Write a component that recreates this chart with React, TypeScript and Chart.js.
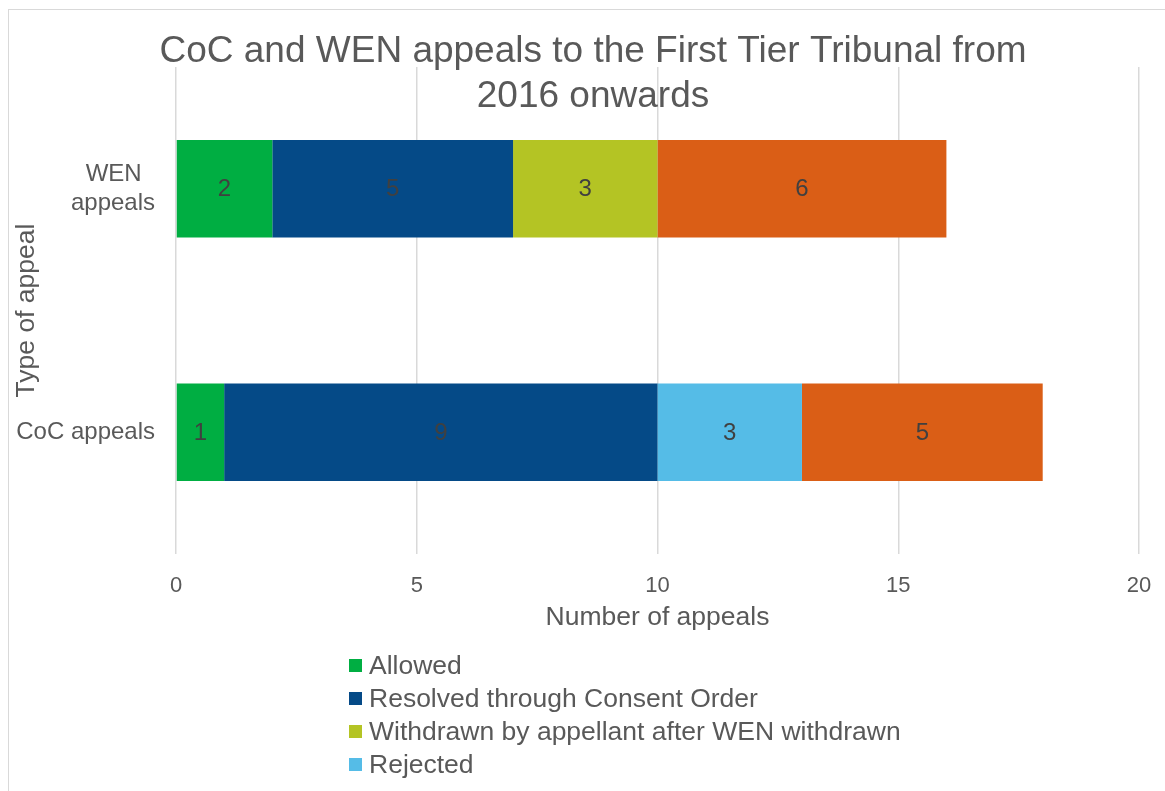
import React, { useEffect, useRef } from "react";
import { Chart, registerables } from "chart.js";

Chart.register(...registerables);

const FONT = "'Liberation Sans', Arial, sans-serif";

const titleLines = ["CoC and WEN appeals to the First Tier Tribunal from", "2016 onwards"];
const categories: (string | string[])[] = [["WEN  ", "appeals"], "CoC appeals"];
const seriesNames = [
  "Allowed",
  "Resolved through Consent Order",
  "Withdrawn by appellant after WEN withdrawn",
  "Rejected",
  "Pending",
];
const allowed = [2, 1];
const consentOrder = [5, 9];
const withdrawnAfterWen = [3, 0];
const rejected = [0, 3];
const pending = [6, 5];
const seriesColors = ["#00AE42", "#054A87", "#B4C424", "#55BCE7", "#DA5E16"];
const xTicks = [0, 5, 10, 15, 20];
const xTitle = "Number of appeals";
const yTitle = "Type of appeal";

const seriesValues = [allowed, consentOrder, withdrawnAfterWen, rejected, pending];

const overlayPlugin = {
  id: "overlay",
  afterDatasetsDraw(chart: any) {
    const ctx = chart.ctx;
    ctx.save();
    ctx.font = `24px ${FONT}`;
    ctx.fillStyle = "#404040";
    ctx.textAlign = "center";
    ctx.textBaseline = "middle";
    chart.data.datasets.forEach((ds: any, di: number) => {
      const meta = chart.getDatasetMeta(di);
      meta.data.forEach((el: any, i: number) => {
        const v = ds.data[i];
        if (!v) return;
        const p = el.getCenterPoint();
        ctx.fillText(String(v), p.x, p.y + 1);
      });
    });
    ctx.restore();
  },
  afterDraw(chart: any) {
    const ctx = chart.ctx;
    const area = chart.chartArea;
    ctx.save();
    // Title (overlaid on the plot, as in the reference)
    ctx.font = `37px ${FONT}`;
    ctx.fillStyle = "#595959";
    ctx.textAlign = "center";
    ctx.textBaseline = "middle";
    titleLines.forEach((line, i) => {
      ctx.fillText(line, chart.width / 2, area.top - 15 + i * 44.5);
    });
    ctx.restore();

    // Legend (one item per row); the legend box is cut off at its bottom edge
    ctx.save();
    ctx.beginPath();
    ctx.rect(0, 0, chart.width, area.bottom + 232);
    ctx.clip();
    ctx.font = `26.5px ${FONT}`;
    ctx.textAlign = "left";
    ctx.textBaseline = "middle";
    const left = area.left + 173;
    chart.data.datasets.forEach((ds: any, i: number) => {
      const cy = area.bottom + 111.5 + i * 33;
      ctx.fillStyle = ds.backgroundColor;
      ctx.fillRect(left, cy - 6.5, 13, 13);
      ctx.fillStyle = "#595959";
      ctx.fillText(ds.label, left + 20, cy + 1);
    });
    ctx.restore();
  },
};

export default function App() {
  const ref = useRef<HTMLCanvasElement | null>(null);

  useEffect(() => {
    if (!ref.current) return;
    const chart = new Chart(ref.current, {
      type: "bar",
      data: {
        labels: categories,
        datasets: seriesNames.map((name, i) => ({
          label: name,
          data: seriesValues[i],
          backgroundColor: seriesColors[i],
          borderWidth: 0,
          barPercentage: 0.4,
          categoryPercentage: 1,
        })),
      },
      options: {
        indexAxis: "y",
        responsive: false,
        animation: false,
        devicePixelRatio: 1,
        layout: { padding: { left: 0, right: 38, top: 57, bottom: 202 } },
        plugins: {
          legend: { display: false },
          title: { display: false },
          tooltip: { enabled: false },
        },
        scales: {
          x: {
            stacked: true,
            min: 0,
            max: 20,
            afterBuildTicks: (scale: any) => {
              scale.ticks = xTicks.map((v) => ({ value: v }));
            },
            afterFit: (scale: any) => {
              scale.height = 84;
            },
            grid: { color: "#d9d9d9", lineWidth: 1.5, drawTicks: false },
            border: { display: false },
            ticks: {
              padding: 19,
              color: "#595959",
              font: { family: FONT, size: 22 },
            },
            title: {
              display: true,
              text: xTitle,
              color: "#595959",
              font: { family: FONT, size: 26.5 },
              padding: { top: 4, bottom: 4 },
            },
          },
          y: {
            stacked: true,
            afterFit: (scale: any) => {
              scale.width = 167;
            },
            grid: { display: false, drawTicks: false },
            border: { display: false },
            ticks: {
              padding: 21,
              color: "#595959",
              font: { family: FONT, size: 24 },
            },
            title: {
              display: true,
              text: yTitle,
              color: "#595959",
              font: { family: FONT, size: 26.5 },
              padding: { top: 2, bottom: 2 },
            },
          },
        },
      },
      plugins: [overlayPlugin],
    } as any);
    return () => chart.destroy();
  }, []);

  return (
    <div
      style={{
        position: "fixed",
        left: 0,
        top: 0,
        width: "100vw",
        height: "100vh",
        overflow: "hidden",
        background: "#fff",
      }}
    >
      <div
        style={{
          position: "absolute",
          left: 8,
          top: 9,
          border: "1px solid #d9d9d9",
          background: "#fff",
        }}
      >
        <canvas ref={ref} width={1168} height={830} style={{ display: "block" }} />
      </div>
    </div>
  );
}
